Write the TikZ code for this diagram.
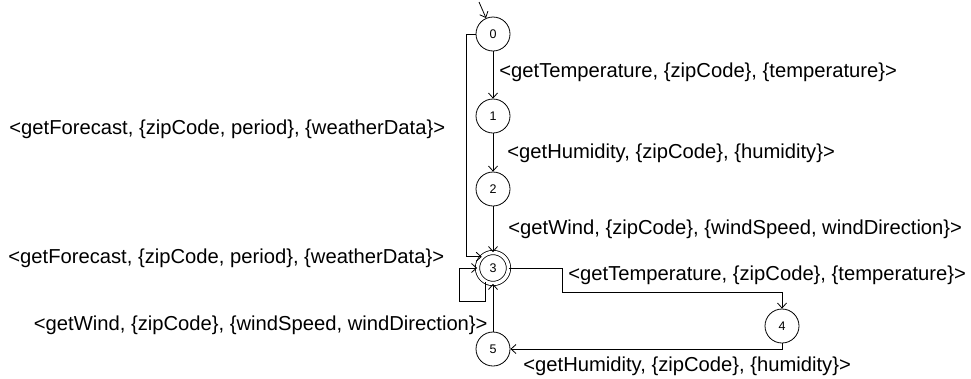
\documentclass[tikz,border=0pt]{standalone}
\usepackage{fontspec}
\setmainfont{Liberation Sans}
\usetikzlibrary{arrows.meta}

\begin{document}
\begin{tikzpicture}[x=1pt, y=-1pt, >={Straight Barb[length=5pt,width=9pt]},
    state/.style={draw, circle, minimum size=34pt, inner sep=0pt, font=\fontsize{12.5}{14}\selectfont},
    final/.style={state, double, double distance=3.5pt, minimum size=31pt},
    lbl/.style={anchor=west, inner sep=0pt, font=\fontsize{20.2}{23}\selectfont},
    every path/.style={line width=0.8pt}]
  \useasboundingbox (0,0) rectangle (971,378);
  \coordinate (in) at (479,2);
  \node[state] (s0) at (493,34)  {0};
  \node[state] (s1) at (493,116) {1};
  \node[state] (s2) at (493,189) {2};
  \node[final] (s3) at (493,268) {3};
  \node[state] (s4) at (782,326) {4};
  \node[state] (s5) at (493,349) {5};
  \node[lbl] (t01) at (499,72)  {<getTemperature, \{zipCode\}, \{temperature\}>};
  \node[lbl] (t03) at (9,129)   {<getForecast, \{zipCode, period\}, \{weatherData\}>};
  \node[lbl] (t12) at (507,153) {<getHumidity, \{zipCode\}, \{humidity\}>};
  \node[lbl] (t23) at (508,229) {<getWind, \{zipCode\}, \{windSpeed, windDirection\}>};
  \node[lbl] (t33) at (8,258)   {<getForecast, \{zipCode, period\}, \{weatherData\}>};
  \node[lbl] (t34) at (568,275) {<getTemperature, \{zipCode\}, \{temperature\}>};
  \node[lbl, anchor=east] (t53) at (488,325) {<getWind, \{zipCode\}, \{windSpeed, windDirection\}>};
  \node[lbl] (t45) at (523,366) {<getHumidity, \{zipCode\}, \{humidity\}>};
  \draw[->] (in) -- (s0);
  \draw[->] (s0) -- (s1);
  \draw[->] (s1) -- (s2);
  \draw[->] (s2) -- (s3);
  \draw[->] (s0.west) -- ++(-9,0) |- (s3.north west);
  \draw[->] (s3.242) |- ++(-26,19) |- (s3.west);
  \draw[->] (s3.east) -| ++(53,24) -| (s4.north);
  \draw[->] (s4.south) |- (s5.east);
  \draw[->] (s5) -- (s3);
\end{tikzpicture}
\end{document}
